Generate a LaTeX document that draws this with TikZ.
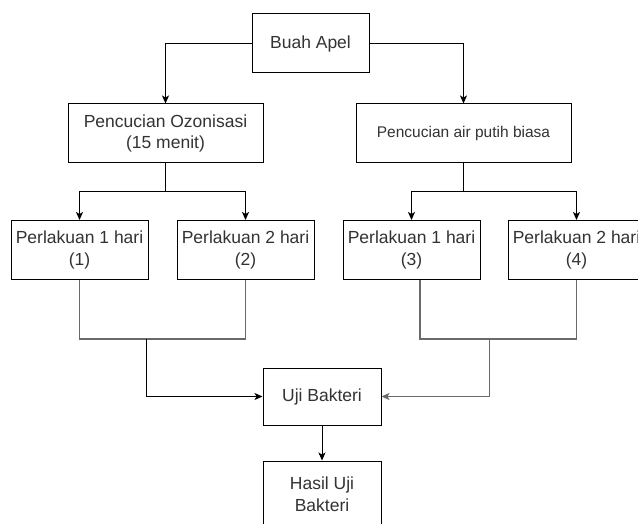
\documentclass[tikz,border=0pt]{standalone}
\usepackage{fontspec}
\setmainfont{Liberation Sans}
\usetikzlibrary{arrows.meta,calc}
\definecolor{txt}{HTML}{333333}
\definecolor{ln}{HTML}{6A6A6A}
\tikzset{
  box/.style={draw=black, line width=1pt, fill=white, inner sep=0pt, align=center,
    text=txt, font=\fontsize{17.5}{21.5}\selectfont, minimum height=59pt},
  arr/.style={draw=black, line width=1pt, -{Stealth[length=8pt,width=7pt,inset=2pt]}},
  con/.style={draw=black, line width=1pt},
  graycon/.style={draw=ln, line width=1.2pt}
}
\begin{document}
\begin{tikzpicture}[x=1pt,y=-1pt]
\useasboundingbox (0,0) rectangle (638,524);
\clip (0,0) rectangle (638,524);
\fill[white] (0,0) rectangle (638,524);

\node[box, minimum width=117pt] (apel) at (310.5,43.5) {Buah Apel};
\node[box, minimum width=195pt] (ozon) at (165.5,133.5) {Pencucian Ozonisasi\\(15 menit)};
\node[box, minimum width=215pt, font=\fontsize{15.5}{19}\selectfont] (air) at (463.5,133.5) {Pencucian air putih biasa};

\node[box, minimum width=137pt] (p1) at (79.5,250) {Perlakuan 1 hari\\(1)};
\node[box, minimum width=137pt] (p2) at (245.5,250) {Perlakuan 2 hari\\(2)};
\node[box, minimum width=137pt] (p3) at (411.5,250) {Perlakuan 1 hari\\(3)};
\node[box, minimum width=137pt] (p4) at (576.5,250) {Perlakuan 2 hari\\(4)};

\node[box, minimum width=118pt, minimum height=57pt] (uji) at (322,396.5) {Uji Bakteri};
\node[box, minimum width=118pt, minimum height=66pt] (hasil) at (322,494) {Hasil Uji\\Bakteri};

% top branches
\draw[arr] (apel.west) -| (ozon.north);
\draw[arr] (apel.east) -| (air.north);

\coordinate (bl) at (165.5,192);
\coordinate (br) at (463.5,192);
\draw[con] (ozon.south) -- (bl);
\draw[arr] (bl) -| (p1.north);
\draw[arr] (bl) -| (p2.north);
\draw[con] (air.south) -- (br);
\draw[arr] (br) -| (p3.north);
\draw[arr] (br) -| (p4.north);

% merge to Uji Bakteri
\coordinate (jl) at (146,339);
\coordinate (jr) at (489,339);
\coordinate (p3out) at (420,280);
\draw[graycon] (p1.south) |- (p2.south |- jl) -- (p2.south);
\draw[graycon] (p3out) |- (p4.south |- jr) -- (p4.south);
\draw[arr] (jl) |- (uji.west);
\draw[arr, draw=ln] (jr) |- (uji.east);
\draw[arr] (uji.south) -- (hasil.north);
\end{tikzpicture}
\end{document}
